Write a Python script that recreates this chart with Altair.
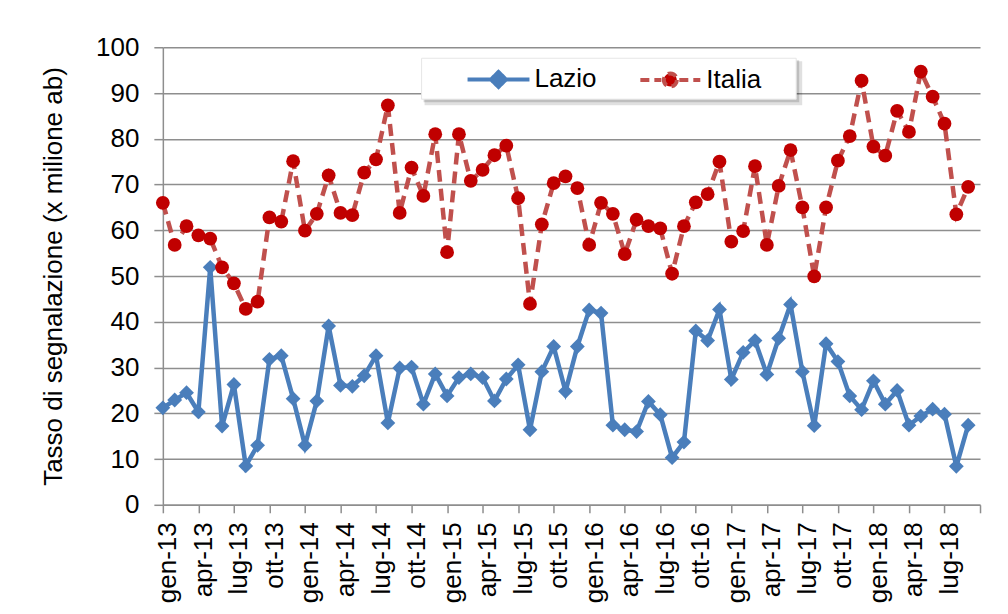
import json
import altair as alt
import pandas as pd

# month index 0 = gen-13 ... 68 = set-18
series_names = ["Lazio", "Italia"]
lazio = [21.2, 22.9, 24.5, 20.3, 51.9, 17.2, 26.3, 8.5, 13.0, 31.8, 32.6, 23.2,
         13.0, 22.7, 39.1, 26.1, 25.9, 28.2, 32.6, 17.9, 29.9, 30.1, 22.0, 28.6,
         23.8, 27.8, 28.6, 27.8, 22.7, 27.5, 30.6, 16.4, 29.1, 34.6, 24.8, 34.6,
         42.6, 41.9, 17.4, 16.4, 16.0, 22.6, 19.7, 10.3, 13.7, 38.0, 35.9, 42.7,
         27.4, 33.3, 35.9, 28.5, 36.4, 43.8, 29.1, 17.3, 35.2, 31.3, 23.8, 20.8,
         27.1, 22.0, 25.0, 17.4, 19.4, 20.9, 19.8, 8.4, 17.4]
italia = [66.0, 56.8, 60.9, 58.9, 58.2, 51.9, 48.4, 42.8, 44.4, 62.8, 61.9, 75.1,
          59.9, 63.6, 72.0, 63.8, 63.3, 72.6, 75.5, 87.3, 63.8, 73.7, 67.5, 81.0,
          55.2, 81.0, 70.8, 73.2, 76.4, 78.5, 67.0, 43.9, 61.3, 70.3, 71.8, 69.2,
          56.8, 66.0, 63.6, 54.8, 62.3, 60.9, 60.4, 50.5, 60.9, 66.1, 67.9, 75.0,
          57.5, 59.8, 74.0, 56.8, 69.7, 77.5, 65.0, 49.9, 65.0, 75.2, 80.6, 92.7,
          78.3, 76.3, 86.1, 81.5, 94.7, 89.2, 83.3, 63.5, 69.5]
tick_labels = ["gen-13", "apr-13", "lug-13", "ott-13",
               "gen-14", "apr-14", "lug-14", "ott-14",
               "gen-15", "apr-15", "lug-15", "ott-15",
               "gen-16", "apr-16", "lug-16", "ott-16",
               "gen-17", "apr-17", "lug-17", "ott-17",
               "gen-18", "apr-18", "lug-18", ""]
y_ticks = [0, 10, 20, 30, 40, 50, 60, 70, 80, 90, 100]

months = list(range(len(lazio)))
tick_vals = [3 * i for i in range(len(tick_labels))]

df = pd.DataFrame({
    "month": months * 2,
    "value": lazio + italia,
    "series": ["Lazio"] * len(lazio) + ["Italia"] * len(italia),
})

FONT = "Liberation Sans"
BLUE = "#4a7ebb"
RED_LINE = "#c0504d"
RED_DOT = "#c00000"
GRID = "#8e8e8e"

x_enc = alt.X("month:Q", title=None,
              scale=alt.Scale(domain=[0, 69], nice=False, zero=False),
              axis=alt.Axis(values=tick_vals,
                            labelExpr=f"{json.dumps(tick_labels)}[round(datum.value/3)]",
                            labelAngle=-90, labelFontSize=26, labelFont=FONT,
                            labelColor="black", labelPadding=9, labelOffset=5,
                            tickSize=8, tickColor=GRID, tickWidth=1.5,
                            domainColor=GRID, domainWidth=1.5, grid=False,
                            labelOverlap=False))
y_enc = alt.Y("value:Q", title="Tasso di segnalazione (x milione ab)",
              scale=alt.Scale(domain=[0, 100], nice=False),
              axis=alt.Axis(values=y_ticks, labelFontSize=26, labelFont=FONT,
                            labelColor="black", labelPadding=15, tickSize=9,
                            tickColor=GRID, tickWidth=1.5, domainColor=GRID,
                            domainWidth=1.5, gridColor=GRID, gridWidth=1.5,
                            titleFontSize=26, titleFont=FONT, titleFontWeight="normal",
                            titleColor="black", titlePadding=29))

base = alt.Chart(df).encode(x=x_enc, y=y_enc)

lazio_line = base.transform_filter("datum.series == 'Lazio'").mark_line(
    color=BLUE, strokeWidth=4.5)
lazio_pts = base.transform_filter("datum.series == 'Lazio'").mark_point(
    shape="diamond", filled=True, color=BLUE, size=220, opacity=1)
italia_line = base.transform_filter("datum.series == 'Italia'").mark_line(
    color=RED_LINE, strokeWidth=4.5, strokeDash=[12, 7])
italia_pts = base.transform_filter("datum.series == 'Italia'").mark_point(
    shape="circle", filled=True, color=RED_DOT, size=190, opacity=1)

# legend box + shadow (decoration)
box_df = pd.DataFrame({"k": [0]})
BX0, BX1, BY0, BY1 = 259, 634, 11, 52
shadow1 = alt.Chart(box_df).mark_rect(color="#000000", opacity=0.12).encode(
    x=alt.value(BX0 + 3), x2=alt.value(BX1 + 6), y=alt.value(BY0 + 3), y2=alt.value(BY1 + 6))
shadow2 = alt.Chart(box_df).mark_rect(color="#000000", opacity=0.15).encode(
    x=alt.value(BX0 + 2), x2=alt.value(BX1 + 3), y=alt.value(BY0 + 2), y2=alt.value(BY1 + 3))
box = alt.Chart(box_df).mark_rect(color="white", stroke="#e6e6e6", strokeWidth=1).encode(
    x=alt.value(BX0), x2=alt.value(BX1), y=alt.value(BY0), y2=alt.value(BY1))

lazio_sym = "M-3.1,0L3.1,0M0,-0.75L0.75,0L0,0.75L-0.75,0Z"
italia_sym = "M-3,0L-0.9,0M0.9,0L3,0M0.65,0A0.65,0.65,0,1,1,-0.65,0A0.65,0.65,0,1,1,0.65,0Z"

leg = alt.Legend(title=None, orient="none", legendX=323, legendY=19,
                 direction="horizontal", padding=0, labelOffset=23,
                 columnPadding=35, symbolSize=400, symbolStrokeWidth=4,
                 labelFontSize=26, labelFont=FONT, labelColor="black",
                 symbolOpacity=1)
legend_layer = base.transform_filter("datum.month < 0").mark_point(
    filled=True, opacity=1, strokeWidth=4).encode(
    fill=alt.Fill("series:N", scale=alt.Scale(domain=series_names, range=[BLUE, RED_DOT]), legend=leg),
    stroke=alt.Stroke("series:N", scale=alt.Scale(domain=series_names, range=[BLUE, RED_LINE]), legend=leg),
    shape=alt.Shape("series:N", scale=alt.Scale(domain=series_names, range=[lazio_sym, italia_sym]), legend=leg),
    strokeDash=alt.StrokeDash("series:N", scale=alt.Scale(domain=series_names, range=[[1, 0], [9, 5]]), legend=leg),
)

chart = alt.layer(
    lazio_line, lazio_pts, italia_line, italia_pts, shadow1, shadow2, box, legend_layer
).properties(
    width=818, height=458,
    autosize=alt.AutoSizeParams(type="none"),
    padding={"left": 155, "top": 39, "right": 20, "bottom": 100},
    background="white",
).configure_view(stroke=None)

chart.save("out.html", embed_options={"renderer": "svg", "actions": False})
